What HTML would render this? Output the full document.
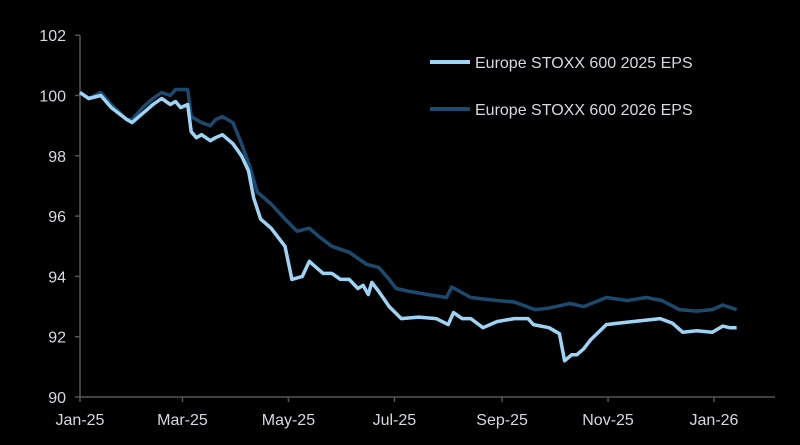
<!DOCTYPE html>
<html><head><meta charset="utf-8"><style>
html,body{margin:0;padding:0;background:#000;}
svg{display:block;}
text{font-family:"Liberation Sans",sans-serif;fill:#d8d8e0;}
</style></head><body>
<svg id="chart" width="800" height="445" viewBox="0 0 800 445">
<rect width="800" height="445" fill="#000"/>
<g id="axes"></g><g id="series"></g>
<g>
<line x1="430" y1="62" x2="470" y2="62" stroke="#9dd4f5" stroke-width="4"/>
<text x="475" y="68" font-size="16">Europe STOXX 600 2025 EPS</text>
<line x1="430" y1="109" x2="470" y2="109" stroke="#1b4a6e" stroke-width="4"/>
<text x="475" y="115" font-size="16">Europe STOXX 600 2026 EPS</text>
</g>
</svg>
<script>
const yTicks=[90,92,94,96,98,100,102];
const xTickLabels=["Jan-25","Mar-25","May-25","Jul-25","Sep-25","Nov-25","Jan-26"];
const xTickDays=[0,59,120,181,243,304,365];
const days25=[0,5,12,18,27,30,36,42,47,52,55,58,62,64,67,70,75,78,82,88,93,97,100,104,110,114,118,122,128,132,136,140,145,150,155,160,163,166,168,172,178,185,195,205,212,215,220,225,232,240,250,258,261,270,276,279,283,286,290,294,303,310,318,326,334,341,347,355,364,370,374,378];
const eps25=[100.1,99.9,100.0,99.6,99.2,99.1,99.4,99.7,99.9,99.7,99.8,99.6,99.7,98.8,98.6,98.7,98.5,98.6,98.7,98.4,98.0,97.5,96.6,95.9,95.6,95.3,95.0,93.9,94.0,94.5,94.3,94.1,94.1,93.9,93.9,93.6,93.7,93.4,93.8,93.5,93.0,92.6,92.65,92.6,92.4,92.8,92.6,92.6,92.3,92.5,92.6,92.6,92.4,92.3,92.1,91.2,91.4,91.4,91.6,91.9,92.4,92.45,92.5,92.55,92.6,92.45,92.15,92.2,92.15,92.35,92.3,92.3];
const days26=[0,5,12,18,27,30,36,42,47,52,55,58,62,64,67,70,75,78,82,88,93,98,102,110,118,125,132,138,145,155,165,172,178,182,190,200,211,214,225,240,250,262,270,282,290,303,315,326,335,345,355,364,370,378];
const eps26=[100.1,99.9,100.1,99.7,99.2,99.2,99.6,99.9,100.1,100.0,100.2,100.2,100.2,99.3,99.2,99.1,99.0,99.2,99.3,99.1,98.4,97.6,96.8,96.4,95.9,95.5,95.6,95.3,95.0,94.8,94.4,94.3,93.9,93.6,93.5,93.4,93.3,93.65,93.3,93.2,93.15,92.9,92.95,93.1,93.0,93.3,93.2,93.3,93.2,92.9,92.85,92.9,93.05,92.9];
const X0=80,PXD=(714-80)/365;
const xs=d=>X0+d*PXD;
const ys=v=>397-(v-90)*30.15;
const NS="http://www.w3.org/2000/svg";
const axes=document.getElementById('axes'),ser=document.getElementById('series');
function mk(tag,attrs,parent){const e=document.createElementNS(NS,tag);for(const k in attrs)e.setAttribute(k,attrs[k]);parent.appendChild(e);return e;}
let yl=mk('line',{x1:X0,y1:ys(102),x2:X0,y2:ys(90),stroke:'#555','stroke-width':1.5},axes);


let xl=mk('line',{x1:X0,y1:ys(90),x2:775,y2:ys(90),stroke:'#555','stroke-width':1.5},axes);


yTicks.forEach(v=>{
 const t=mk('line',{x1:X0-5,y1:ys(v),x2:X0,y2:ys(v),stroke:'#555','stroke-width':1.5},axes);
 
 
 const l=mk('text',{x:X0-14,y:ys(v)+6,'text-anchor':'end','font-size':16},axes);l.textContent=v;
 
 
});
xTickLabels.forEach((s,i)=>{
 const x=xs(xTickDays[i]);
 const t=mk('line',{x1:x,y1:ys(90),x2:x,y2:ys(90)+5,stroke:'#555','stroke-width':1.5},axes);
 
 
 const l=mk('text',{x:x,y:425,'text-anchor':'middle','font-size':16},axes);l.textContent=s;
 
 
});
function line(d,v,c,name){
 const p=mk('polyline',{points:d.map((dd,i)=>xs(dd).toFixed(1)+','+ys(v[i]).toFixed(1)).join(' '),fill:'none',stroke:c,'stroke-width':3.5,'stroke-linejoin':'round'},ser);
 
 
}
line(days26,eps26,'#1b4a6e','line-2026-eps');
line(days25,eps25,'#9dd4f5','line-2025-eps');
</script>
</body></html>
